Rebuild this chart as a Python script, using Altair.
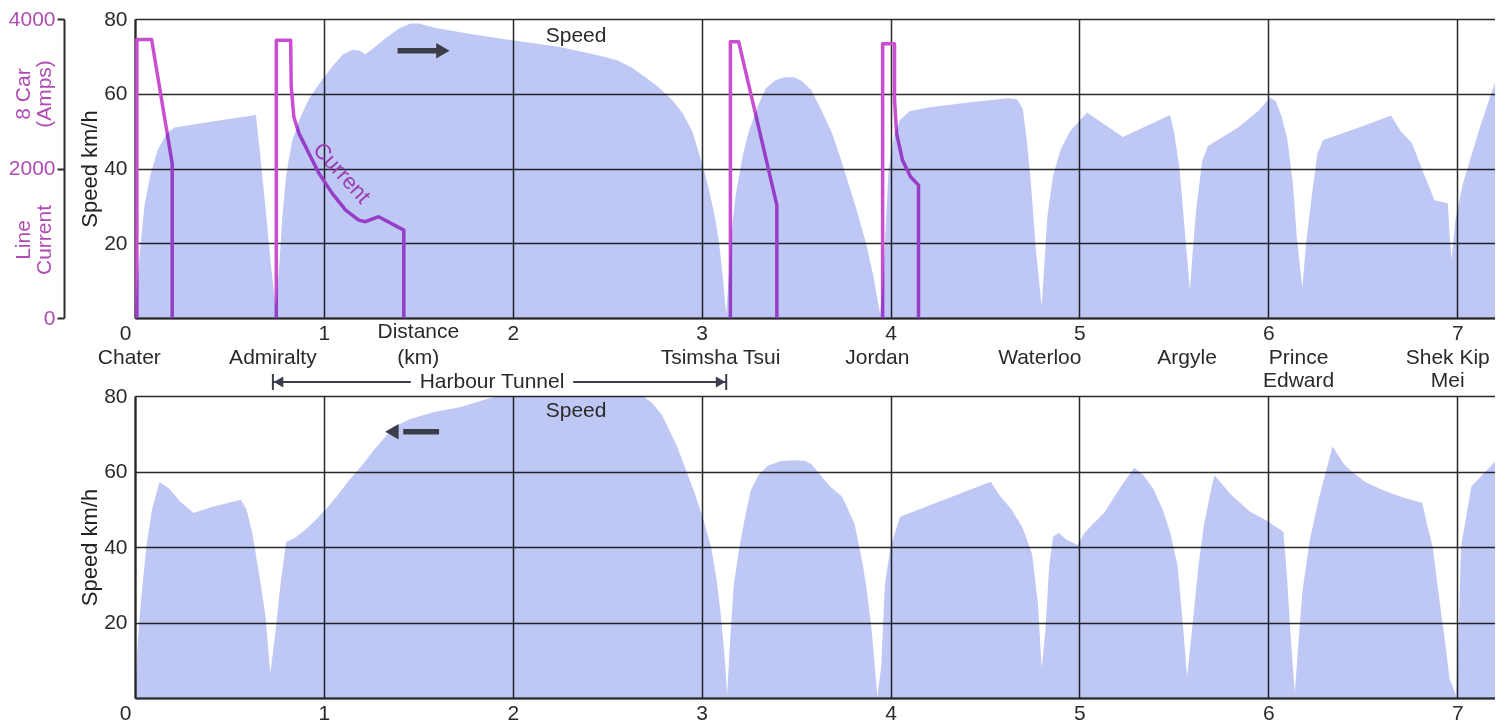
import altair as alt
import pandas as pd

# ---------------- data ----------------
# Top panel: Chater -> Shek Kip Mei (direction ->)
top_km = [0.0, 0.01, 0.03, 0.05, 0.08, 0.12, 0.17, 0.21, 0.40, 0.64, 0.66, 0.69, 0.72, 0.745,
          0.765, 0.78, 0.80, 0.83, 0.87, 0.92, 0.98, 1.04, 1.10, 1.15, 1.19, 1.22, 1.27, 1.33,
          1.40, 1.46, 1.50, 1.60, 1.80, 2.00, 2.25, 2.45, 2.55, 2.63, 2.70, 2.77, 2.84, 2.90,
          2.95, 2.98, 3.01, 3.04, 3.07, 3.09, 3.11, 3.13, 3.145, 3.16, 3.18, 3.22, 3.25, 3.30,
          3.34, 3.39, 3.44, 3.49, 3.53, 3.58, 3.63, 3.69, 3.74, 3.78, 3.82, 3.87, 3.91, 3.945,
          3.96, 3.975, 3.99, 4.02, 4.05, 4.10, 4.20, 4.40, 4.62, 4.67, 4.70, 4.72, 4.74, 4.77,
          4.80, 4.815, 4.83, 4.86, 4.90, 4.95, 5.04, 5.23, 5.48, 5.50, 5.53, 5.56, 5.585, 5.60,
          5.62, 5.65, 5.68, 5.84, 5.95, 6.01, 6.04, 6.07, 6.10, 6.13, 6.15, 6.18, 6.20, 6.227,
          6.26, 6.29, 6.48, 6.65, 6.70, 6.76, 6.82, 6.88, 6.95, 6.96, 6.97, 6.99, 7.03, 7.12, 7.2]
top_speed = [0, 8, 20, 30, 38, 45, 49.5, 51, 52.5, 54.3, 45, 30, 14, 3,
             15, 27, 38, 47, 53, 58.5, 63, 67, 70.5, 71.8, 71.5, 70.6, 72.5, 75,
             77.5, 78.8, 78.8, 77.5, 75.8, 74.3, 72.5, 70.3, 69, 67, 64.5, 61.8, 58.5, 54.8,
             50, 45, 40, 34, 27, 21, 12, 1, 12, 24, 33, 44, 50, 57,
             61.5, 63.6, 64.4, 64.4, 63.4, 61, 56, 49.5, 42, 35.5, 29, 20, 11, 1,
             10, 25, 40, 49, 53, 55.3, 56.3, 57.6, 58.8, 58.5, 56, 48, 38, 18,
             3, 15, 27, 38, 45, 50, 55, 48.4, 54.3, 50, 40, 22, 7.5, 18,
             30, 42, 46, 51, 55.5, 59, 58, 54, 48, 36, 22, 8, 20, 31.5,
             44, 47.6, 51, 54.2, 50, 46.8, 39, 31.5, 30.7, 22, 15.5, 26, 36, 51, 63]

# Bottom panel: Shek Kip Mei -> Chater (direction <-)
bot_km = [0.0, 0.015, 0.03, 0.06, 0.09, 0.13, 0.18, 0.24, 0.31, 0.40, 0.56, 0.59, 0.62, 0.66,
          0.69, 0.716, 0.745, 0.77, 0.80, 0.85, 0.90, 0.95, 1.01, 1.07, 1.13, 1.20, 1.27, 1.33,
          1.40, 1.46, 1.59, 1.72, 1.85, 1.92, 2.69, 2.74, 2.79, 2.87, 2.92, 2.97, 3.01, 3.05,
          3.08, 3.10, 3.12, 3.135, 3.15, 3.17, 3.20, 3.23, 3.26, 3.30, 3.35, 3.42, 3.50, 3.55,
          3.58, 3.63, 3.68, 3.74, 3.77, 3.81, 3.85, 3.87, 3.90, 3.93, 3.95, 3.97, 4.00, 4.05,
          4.53, 4.58, 4.64, 4.70, 4.75, 4.78, 4.80, 4.82, 4.84, 4.86, 4.89, 4.93, 4.99, 5.03,
          5.13, 5.22, 5.29, 5.34, 5.39, 5.44, 5.48, 5.52, 5.55, 5.57, 5.60, 5.63, 5.66, 5.70,
          5.715, 5.80, 5.90, 5.99, 6.07, 6.08, 6.10, 6.12, 6.14, 6.16, 6.18, 6.22, 6.27, 6.34,
          6.40, 6.45, 6.52, 6.61, 6.72, 6.815, 6.84, 6.87, 6.90, 6.93, 6.96, 6.995, 7.01, 7.02,
          7.075, 7.2]
bot_speed = [0, 15, 25, 40, 50, 57.2, 55.5, 52, 49, 50.5, 52.5, 50, 44, 32,
             22, 6.5, 18, 30, 41.3, 42.5, 44.5, 46.8, 50, 53.5, 57.5, 61.5, 66, 69.5,
             72.5, 74, 75.8, 77, 79, 80, 80, 78, 75, 66.6, 60, 53.3, 47, 40,
             31, 22.5, 12, 1, 15, 30, 40, 48, 55, 59, 61.5, 62.8, 63, 62.8,
             62, 59, 56, 53.5, 50.5, 46, 36, 30, 18, 0.5, 8, 30, 40, 48,
             57.3, 53.5, 50, 45, 38, 25, 8, 18, 35, 42.7, 43.8, 42, 40.5, 44,
             49, 56, 61, 59, 55.5, 50, 44, 35, 18, 5.6, 20, 35, 46, 56,
             59, 54, 49.5, 47, 44.4, 44, 31.3, 15, 1.3, 15, 28, 42, 53.3, 66.6,
             62, 59.6, 57, 55, 53, 51.7, 46, 40, 28, 17, 5, 0.5, 22, 40,
             56, 62.6]

# Line current (8 car, amps) - top panel
cur_seg = [1] * 5 + [2] * 15 + [3] * 5 + [4] * 9
cur_km = [0.01, 0.01, 0.088, 0.197, 0.197,
          0.748, 0.748, 0.824, 0.827, 0.841, 0.868, 0.921, 0.974, 1.044, 1.115, 1.185, 1.22, 1.29, 1.423, 1.423,
          3.152, 3.152, 3.196, 3.398, 3.398,
          3.958, 3.958, 4.021, 4.021, 4.032, 4.063, 4.106, 4.148, 4.148]
cur_amps = [0, 3725, 3725, 2065, 0,
            0, 3715, 3715, 3093, 2690, 2470, 2200, 1935, 1667, 1444, 1310, 1288, 1355, 1176, 0,
            0, 3695, 3695, 1510, 0,
            0, 3670, 3670, 2916, 2470, 2112, 1889, 1778, 0]

# Station labels (km position, first line, second line)
station_km = [-0.03, 0.73, 1.50, 3.10, 3.93, 4.79, 5.57, 6.16, 6.95]
station_line1 = ["Chater", "Admiralty", "(km)", "Tsimsha Tsui", "Jordan", "Waterloo", "Argyle", "Prince", "Shek Kip"]
station_line2 = ["", "", "", "", "", "", "", "Edward", "Mei"]

km_ticks = [0, 1, 2, 3, 4, 5, 6, 7]
speed_ticks = [20, 40, 60, 80]
amp_ticks = [0, 2000, 4000]

tunnel_start, tunnel_end = 0.73, 3.13
top_arrow = {"x": 1.39, "x2": 1.60, "head": 1.63, "y": 71.5}
bot_arrow = {"x": 1.61, "x2": 1.42, "head": 1.36, "y": 70.5}

# ---------------- styles ----------------
FONT = "Liberation Sans"
AREA = "#bfc8f4"
MAG = "#c94fd0"
MAG_TXT = "#b04cb4"
INK = "#2a2a2a"
ARROW = "#3b3e4a"
W = 1360
H_TOP = 299
H_BOT = 302
XDOM = [0, 7.2]

xscale = alt.Scale(domain=XDOM, nice=False, zero=False)
yscale = alt.Scale(domain=[0, 80], nice=False)


def x_axis():
    return alt.Axis(values=km_ticks, title=None, grid=True, ticks=False,
                    labelFlush=False, labelPadding=4, format="d",
                    labelOffset={"condition": {"test": "datum.value === 0", "value": -10}, "value": 0})


def y_axis():
    return alt.Axis(orient="left", values=[0] + speed_ticks, title="Speed km/h", grid=True, ticks=False,
                    labelPadding=8, titlePadding=2,
                    labelExpr="datum.value === 0 ? '' : datum.label")


def speed_panel(km, speed, arrow, speed_label_y):
    df = pd.DataFrame({"km": km, "speed": speed})
    area = alt.Chart(df).mark_area(color=AREA, blend="multiply", opacity=1).encode(
        x=alt.X("km:Q", scale=xscale, axis=x_axis()),
        y=alt.Y("speed:Q", scale=yscale, axis=y_axis()),
    )
    lab = alt.Chart(pd.DataFrame({"km": [2.335], "speed": [speed_label_y], "t": ["Speed"]})).mark_text(
        font=FONT, fontSize=21, color=INK).encode(x="km:Q", y="speed:Q", text="t:N")
    adf = pd.DataFrame({"km": [arrow["x"]], "km2": [arrow["x2"]], "head": [arrow["head"]], "speed": [arrow["y"]]})
    shaft = alt.Chart(adf).mark_rule(color=ARROW, strokeWidth=5.5).encode(
        x="km:Q", x2="km2:Q", y="speed:Q")
    shape = "triangle-right" if arrow["head"] > arrow["x"] else "triangle-left"
    head = alt.Chart(adf).mark_point(shape=shape, filled=True, size=240, color=ARROW, opacity=1).encode(
        x="head:Q", y="speed:Q")
    return [area, lab, shaft, head]


# ---------------- top panel ----------------
top_layers = speed_panel(top_km, top_speed, top_arrow, 75.4)

st = pd.DataFrame({"km": station_km, "l1": station_line1, "l2": station_line2})
row1 = alt.Chart(st).mark_text(font=FONT, fontSize=21, color=INK, baseline="middle").encode(
    x="km:Q", y=alt.value(H_TOP + 40), text="l1:N")
row2 = alt.Chart(st).mark_text(font=FONT, fontSize=21, color=INK, baseline="middle").encode(
    x="km:Q", y=alt.value(H_TOP + 63), text="l2:N")
dist = alt.Chart(pd.DataFrame({"km": [1.50], "t": ["Distance"]})).mark_text(
    font=FONT, fontSize=21, color=INK, baseline="middle").encode(
    x="km:Q", y=alt.value(H_TOP + 14), text="t:N")

# Harbour Tunnel annotation
ht_mid = (tunnel_start + tunnel_end) / 2 - 0.04
ht = pd.DataFrame({"a": [tunnel_start, ht_mid + 0.43], "b": [ht_mid - 0.43, tunnel_end]})
ht_lines = alt.Chart(ht).mark_rule(color=ARROW, strokeWidth=2).encode(
    x="a:Q", x2="b:Q", y=alt.value(H_TOP + 64))
ht_ends = alt.Chart(pd.DataFrame({"a": [tunnel_start, tunnel_end]})).mark_rule(
    color=ARROW, strokeWidth=2).encode(x="a:Q", y=alt.value(H_TOP + 56), y2=alt.value(H_TOP + 72))
ht_heads = alt.Chart(pd.DataFrame({"a": [tunnel_start + 0.03, tunnel_end - 0.03],
                                   "s": ["triangle-left", "triangle-right"]})).mark_point(
    filled=True, size=120, color=ARROW, opacity=1).encode(
    x="a:Q", y=alt.value(H_TOP + 64),
    shape=alt.Shape("s:N", scale=None, legend=None))
ht_text = alt.Chart(pd.DataFrame({"a": [ht_mid], "t": ["Harbour Tunnel"]})).mark_text(
    font=FONT, fontSize=21, color=INK, baseline="middle").encode(
    x="a:Q", y=alt.value(H_TOP + 64), text="t:N")

# Current trace + its axis
cdf = pd.DataFrame({"km": cur_km, "amps": cur_amps, "seg": cur_seg, "i": list(range(len(cur_km)))})
cur_line = alt.Chart(cdf).mark_line(color=MAG, strokeWidth=3.5, strokeJoin="round").encode(
    x=alt.X("km:Q", scale=xscale),
    y=alt.Y("amps:Q", scale=alt.Scale(domain=[0, 4000], nice=False),
            axis=alt.Axis(orient="left", offset=71, values=amp_ticks, title=None, grid=False,
                          ticks=True, tickSize=7, tickWidth=2, tickColor=INK, domainColor=INK,
                          domainWidth=2, labelColor=MAG_TXT, labelPadding=2, format="d")),
    detail="seg:N", order="i:Q")

cur_text = alt.Chart(pd.DataFrame({"km": [1.095], "speed": [38.8], "t": ["Current"]})).mark_text(
    font=FONT, fontSize=22, color="#9a3cb4", angle=48).encode(x="km:Q", y="speed:Q", text="t:N")

amp_title_text = ["8 Car", "(Amps)", "Line", "Current"]
amp_titles = [
    alt.Chart(pd.DataFrame({"t": [t]})).mark_text(font=FONT, fontSize=21, color=MAG_TXT, angle=270).encode(
        x=alt.value(dx), y=alt.value(yp), text="t:N")
    for t, dx, yp in zip(amp_title_text, [-111, -90, -111, -90], [75, 75, 221, 221])
]

speed_group = alt.layer(*top_layers, cur_text, row1, row2, dist,
                        ht_lines, ht_ends, ht_heads, ht_text, *amp_titles)
top = alt.layer(cur_line, speed_group).resolve_scale(y="independent").properties(width=W, height=H_TOP)

# ---------------- bottom panel ----------------
bot_layers = speed_panel(bot_km, bot_speed, bot_arrow, 76.0)
bottom = alt.layer(*bot_layers).properties(width=W, height=H_BOT)

chart = alt.vconcat(top, bottom, spacing=78, bounds="flush").properties(
    padding={"left": 0, "top": 0, "right": 0, "bottom": 0}, background="white"
).configure_view(strokeWidth=0).configure_axis(
    gridColor=INK, gridWidth=1.5, gridOpacity=1,
    domainColor=INK, domainWidth=2.2,
    labelFont=FONT, labelFontSize=21, labelColor=INK,
    titleFont=FONT, titleFontSize=22, titleFontWeight="normal", titleColor="#222",
)

chart.save("out.html", embed_options={"renderer": "svg", "actions": False})
